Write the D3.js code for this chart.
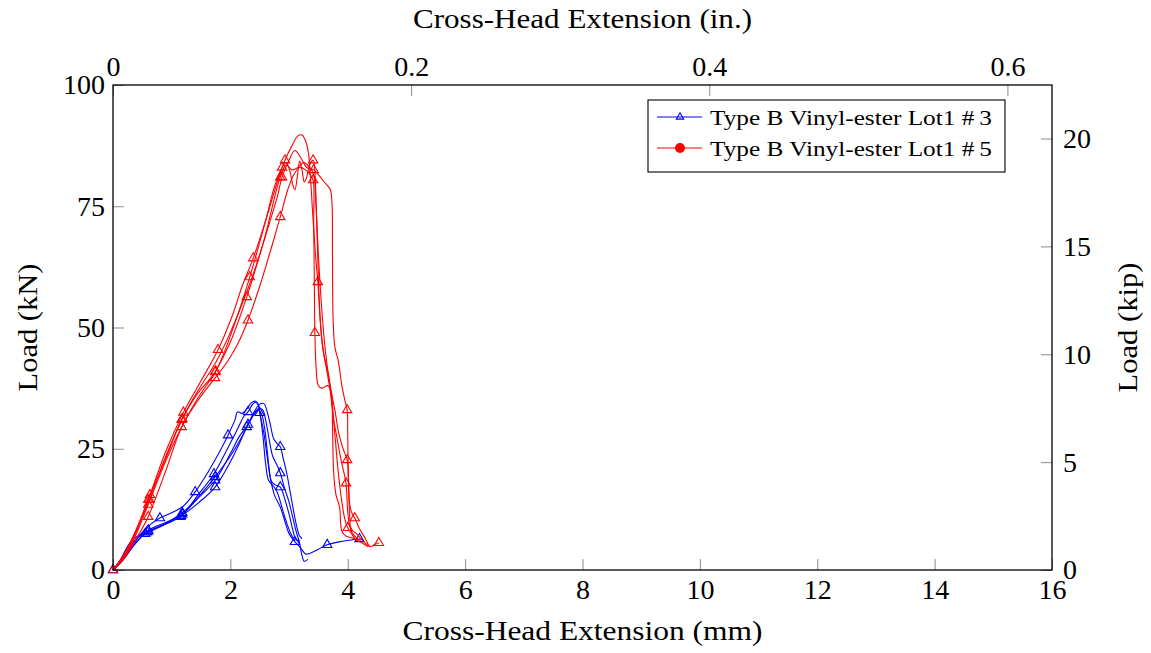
<!DOCTYPE html>
<html><head><meta charset="utf-8">
<script src="https://cdn.jsdelivr.net/npm/d3@7"></script>
<style>
body{margin:0;background:#fff}
svg{display:block}
text{font-family:"Liberation Serif","Times New Roman",serif;fill:#000}
</style>
</head><body>
<svg id="c" width="1151" height="653"></svg>
<script>
// ---------------- DATA (mm, kN) ----------------
const xTicksMM = [0,2,4,6,8,10,12,14,16];
const xTicksIn = [0,0.2,0.4,0.6];
const yTicksKN = [0,25,50,75,100];
const yTicksKip = [0,5,10,15,20];
const seriesNames = ["Type B Vinyl-ester Lot1 #\u20093","Type B Vinyl-ester Lot1 #\u20095"];

// Lot1 #3 specimens (blue)
const lot3_s1 = [[0,0],[0.12,1.5],[0.3,4.5],[0.5,7.8],[0.65,9.5],[0.8,10.7],[1.0,11.8],[1.2,13.2],[1.4,16.1],[1.6,19.8],[1.8,24],[1.96,27.8],[2.08,31],[2.12,32.6],[2.2,32.3],[2.28,33.2],[2.36,34.5],[2.43,34.8],[2.48,34],[2.5,32.4],[2.56,29],[2.62,24],[2.68,19],[2.75,15.5],[2.85,13],[2.93,10],[3.0,7.5],[3.1,5.8],[3.2,4.5],[3.28,3.3],[3.35,3.4],[3.5,4.3],[3.65,5.2],[3.85,5.8],[4.05,6.2],[4.2,6.4],[4.26,6.3]];
const lot3_s2 = [[0,0],[0.15,1.8],[0.35,5],[0.58,7.8],[0.85,9.3],[1.18,11.8],[1.45,15],[1.74,19.2],[2.0,23.5],[2.15,26.5],[2.3,30],[2.4,32.5],[2.5,34.2],[2.57,34.3],[2.63,32.5],[2.68,30],[2.74,27],[2.8,26],[2.85,25.4],[2.9,23],[2.96,20],[3.02,16],[3.08,12],[3.13,9],[3.18,7],[3.22,6.5]];
const lot3_s3 = [[0,0],[0.2,2.5],[0.4,5.8],[0.6,8.2],[0.9,9.8],[1.16,11.2],[1.45,13.8],[1.74,17.1],[2.0,22.3],[2.15,26],[2.28,29.5],[2.38,31.8],[2.48,33.3],[2.55,33],[2.6,31],[2.66,27],[2.72,23.5],[2.8,21.5],[2.85,20],[2.92,17],[3.0,14],[3.06,11],[3.12,8],[3.18,5.5],[3.22,3],[3.26,1.8],[3.32,2.2]];
const lot3_s4 = [[0,0],[0.2,3],[0.4,6.5],[0.6,8],[0.9,9.6],[1.18,11.5],[1.45,14.8],[1.74,18.5],[2.0,24],[2.15,27.5],[2.3,30],[2.4,32],[2.47,33],[2.53,32.2],[2.58,29.5],[2.62,25.5],[2.66,21],[2.7,18.3],[2.76,17.6],[2.85,17.1],[2.93,14.5],[3.0,11.5],[3.06,8.5],[3.12,6.2],[3.18,6]];
const lot3_s5 = [[0,0],[0.12,2],[0.3,5.8],[0.45,7.2],[0.55,7.5],[0.85,9.2],[1.15,11],[1.45,15.5],[1.72,19.8],[1.95,25],[2.12,29],[2.22,31.5],[2.3,32.6],[2.37,34],[2.42,34.6],[2.47,34.2],[2.52,31],[2.56,27],[2.6,22],[2.65,18.5],[2.72,17.5],[2.8,16],[2.9,12],[2.98,9],[3.05,7],[3.1,6]];
const lot3Marks = [[0,0],[0.8,10.7],[1.4,16.1],[1.96,27.8],[2.5,32.4],[3.1,5.8],[3.65,5.2],[4.2,6.4],
  [0.58,7.8],[1.18,11.8],[1.74,19.2],[2.3,30],[2.85,25.4],
  [0.6,8.2],[1.16,11.2],[1.74,17.1],[2.28,29.5],[2.85,20],
  [0.6,8],[1.18,11.5],[1.74,18.5],[2.85,17.1],
  [0.55,7.5],[1.15,11],[1.72,19.8],[2.3,32.6]];

// Lot1 #5 specimens (red)
const lot5_s1 = [[0,0],[0.2,3.5],[0.4,8.5],[0.63,15.5],[0.9,24.5],[1.2,32.5],[1.5,39],[1.79,45.4],[2.05,53],[2.2,58.5],[2.39,64.3],[2.6,72],[2.8,80],[2.93,84.5],[3.05,87.5],[3.15,89.5],[3.22,89.7],[3.28,88.5],[3.33,86],[3.37,80],[3.4,74],[3.45,65],[3.49,59.4],[3.54,50],[3.6,44],[3.66,41],[3.72,36],[3.78,28],[3.84,20],[3.9,14],[3.95,10.5],[4.0,8.7],[4.08,7.2],[4.15,6]];
const lot5_s2 = [[0,0],[0.2,3],[0.4,8],[0.6,14.5],[0.9,23],[1.17,31],[1.45,36.5],[1.75,41],[2.05,50],[2.33,60.4],[2.6,72],[2.75,79],[2.88,83],[2.95,84],[3.02,82],[3.06,79.5],[3.1,78.4],[3.14,81],[3.18,84.3],[3.22,82.5],[3.26,80],[3.3,81],[3.35,83.5],[3.41,84.5],[3.44,82],[3.46,76],[3.48,68],[3.5,60],[3.53,52],[3.57,46],[3.63,42],[3.7,37],[3.76,31],[3.82,27],[3.88,23],[3.97,17.9],[4.0,12],[4.05,8.5],[4.15,7.5],[4.22,6.5],[4.3,5.5],[4.38,4.8]];
const lot5_s3 = [[0,0],[0.2,2.8],[0.4,7.5],[0.6,13.5],[0.9,22.5],[1.17,29.5],[1.45,35.5],[1.74,40.8],[2.0,47],[2.28,56.3],[2.55,67],[2.8,77],[2.88,81],[3.0,84.5],[3.1,86.5],[3.2,85],[3.3,83],[3.42,82.5],[3.5,81.5],[3.6,80],[3.7,78.5],[3.73,76],[3.74,65],[3.75,52],[3.78,46],[3.84,43],[3.9,38],[3.95,35],[3.99,33],[4.0,28],[4.01,20],[4.04,13],[4.08,11.5],[4.12,10.7],[4.2,8.5],[4.3,6.5],[4.38,4.8],[4.45,5.2],[4.53,5.6]];
const lot5_s4 = [[0,0],[0.2,2.5],[0.4,6.5],[0.6,11],[0.9,20.5],[1.17,29.5],[1.45,35],[1.74,39.6],[1.95,43],[2.12,46.5],[2.3,51.5],[2.5,58.5],[2.7,66.5],[2.85,72.8],[2.98,78.5],[3.08,81.5],[3.18,83],[3.28,82.5],[3.36,81.5],[3.41,80.4],[3.42,72],[3.43,60],[3.44,48.9],[3.46,42],[3.5,38],[3.56,37.5],[3.66,38],[3.72,36.5],[3.74,30],[3.76,20],[3.8,15.5],[3.86,13],[3.9,8],[3.97,7],[4.1,6.5],[4.25,5.5],[4.35,4.8]];
const lot5_s5 = [[0,0],[0.2,3.2],[0.4,8.2],[0.62,14.5],[0.9,23.5],[1.18,31.2],[1.45,37],[1.76,43],[2.0,49],[2.3,58],[2.55,67],[2.85,81],[2.95,83.5],[3.05,82.5],[3.15,83],[3.25,84],[3.35,83],[3.42,81.5],[3.46,75],[3.5,65],[3.55,55],[3.62,45],[3.7,38],[3.78,33],[3.85,28],[3.92,25],[3.99,22.7],[4.01,18],[4.03,12],[4.06,8],[4.12,7],[4.22,6]];
const lot5Marks = [[0,0],[0.63,15.5],[1.2,32.5],[1.79,45.4],[2.39,64.3],[2.93,84.5],[3.49,59.4],[4.0,8.7],
  [0.6,14.5],[1.17,31],[1.75,41],[2.33,60.4],[2.88,83],[3.41,84.5],[3.97,17.9],
  [0.6,13.5],[1.17,29.5],[1.74,40.8],[2.28,56.3],[2.88,81],[3.42,82.5],[3.99,33],[4.12,10.7],[4.53,5.6],
  [0.6,11],[1.74,39.6],[2.3,51.5],[2.85,72.8],[3.41,80.4],[3.44,48.9],
  [0.62,14.5],[1.18,31.2],[2.85,81],[3.99,22.7]];

const lot3 = [lot3_s1,lot3_s2,lot3_s3,lot3_s4,lot3_s5];
const lot5 = [lot5_s1,lot5_s2,lot5_s3,lot5_s4,lot5_s5];
const colors = ["#0000ff","#ff0000"];

// ---------------- CHART ----------------
const svg = d3.select("#c");
const L=113,R=1052,T=85,B=570;
const x = d3.scaleLinear().domain([0,16]).range([L,R]);
const y = d3.scaleLinear().domain([0,100]).range([B,T]);
const xIn = d3.scaleLinear().domain([0,16/25.4]).range([L,R]);
const yKip = d3.scaleLinear().domain([0,100/4.44822]).range([B,T]);

const tickFS = 28;
function styleAxis(g){
  g.select(".domain").remove();
  g.selectAll(".tick line").attr("stroke","#8c8c8c").attr("stroke-width",1);
  g.selectAll(".tick text").attr("font-size",tickFS).attr("font-family","Liberation Serif, serif").attr("fill","#000");
}
svg.append("g").attr("transform",`translate(0,${B})`)
  .call(d3.axisBottom(x).tickValues(xTicksMM).tickSize(-11).tickPadding(9).tickFormat(d3.format("d"))).call(styleAxis);
svg.append("g").attr("transform",`translate(${L},0)`)
  .call(d3.axisLeft(y).tickValues(yTicksKN).tickSize(-11).tickPadding(8).tickFormat(d3.format("d"))).call(styleAxis);
svg.append("g").attr("transform",`translate(0,${T})`)
  .call(d3.axisTop(xIn).tickValues(xTicksIn).tickSize(-11).tickPadding(9).tickFormat(d=>d===0?"0":d3.format(".1f")(d))).call(styleAxis);
svg.append("g").attr("transform",`translate(${R},0)`)
  .call(d3.axisRight(yKip).tickValues(yTicksKip).tickSize(-11).tickPadding(11).tickFormat(d3.format("d"))).call(styleAxis);

// curves
const line = d3.line().x(d=>x(d[0])).y(d=>y(d[1])).curve(d3.curveCatmullRom.alpha(0.5));
const tri = r => `M0,${-r}L${0.866*r},${0.5*r}L${-0.866*r},${0.5*r}Z`;
const plot = svg.append("g");
[[lot3,lot3Marks,colors[0]],[lot5,lot5Marks,colors[1]]].forEach(([curves,marks,col])=>{
  curves.forEach(c=>{
    plot.append("path").datum(c).attr("d",line).attr("fill","none").attr("stroke",col).attr("stroke-width",1.1).attr("stroke-linejoin","round");
  });
  plot.selectAll(null).data(marks).enter().append("path")
    .attr("transform",d=>`translate(${x(d[0])},${y(d[1])})`)
    .attr("d",tri(5.4)).attr("fill","none").attr("stroke",col).attr("stroke-width",1.1);
});

// frame
svg.append("rect").attr("x",L).attr("y",T).attr("width",R-L).attr("height",B-T)
  .attr("fill","none").attr("stroke","#000").attr("stroke-width",1.3);

// titles
const titleFS = 28;
function title(sel,len){ return sel.attr("font-size",titleFS).attr("text-anchor","middle").attr("textLength",len).attr("lengthAdjust","spacingAndGlyphs"); }
title(svg.append("text").attr("x",(L+R)/2).attr("y",640),360).text("Cross-Head Extension (mm)");
title(svg.append("text").attr("x",(L+R)/2).attr("y",28),339).text("Cross-Head Extension (in.)");
title(svg.append("text").attr("transform",`translate(37,${(T+B)/2}) rotate(-90)`),128).text("Load (kN)");
title(svg.append("text").attr("transform",`translate(1137,${(T+B)/2}) rotate(-90)`),130).text("Load (kip)");

// legend
const lg = svg.append("g");
lg.append("rect").attr("x",648).attr("y",100).attr("width",357).attr("height",72).attr("fill","#fff").attr("stroke","#000").attr("stroke-width",1.1);
const rows=[117,148];
rows.forEach((ry,i)=>{
  lg.append("line").attr("x1",657).attr("x2",702).attr("y1",ry).attr("y2",ry).attr("stroke",colors[i]).attr("stroke-width",1.1);
  if(i===0) lg.append("path").attr("transform",`translate(680,${ry})`).attr("d",tri(4.2)).attr("fill","none").attr("stroke",colors[i]).attr("stroke-width",1.1);
  else lg.append("circle").attr("cx",680).attr("cy",ry).attr("r",5).attr("fill",colors[i]);
  lg.append("text").attr("x",710).attr("y",ry+7.5).attr("font-size",22).attr("textLength",282).attr("lengthAdjust","spacingAndGlyphs").text(seriesNames[i]);
});
</script>
</body></html>
